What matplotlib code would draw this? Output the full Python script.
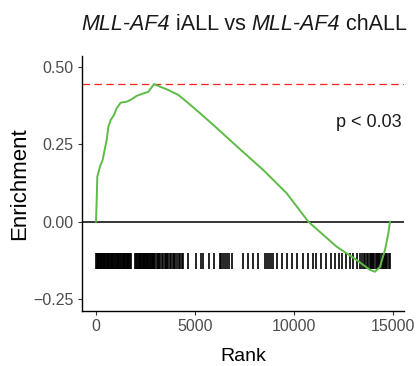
import matplotlib
matplotlib.use("Agg")
import matplotlib.pyplot as plt
from matplotlib.offsetbox import TextArea, HPacker, AnnotationBbox

plt.rcParams['font.family'] = ['Liberation Sans', 'DejaVu Sans']

# running enrichment score curve (rank, ES)
curve_rank = [0, 35, 67, 200, 337, 455, 540, 624, 741, 909, 1044, 1246, 1549, 1801, 2053,
              2390, 2643, 2929, 3232, 3653, 4158, 4579, 5252, 5926, 6936, 8450, 9630,
              10723, 12155, 13165, 13838, 14090, 14343, 14595, 14764, 14848]
curve_es = [0.0, 0.07, 0.146, 0.178, 0.2, 0.238, 0.264, 0.307, 0.329, 0.345, 0.367, 0.385,
            0.388, 0.396, 0.407, 0.415, 0.42, 0.445, 0.437, 0.426, 0.41, 0.388, 0.351, 0.313,
            0.254, 0.167, 0.092, 0.0, -0.081, -0.124, -0.156, -0.162, -0.146, -0.092, -0.038, 0.0]

# gene set hit positions (rug)
hits = [10, 45, 80, 120, 150, 195, 230, 270, 300, 345, 390, 420, 470, 510, 540, 590, 630, 660,
        710, 750, 790, 830, 880, 910, 960, 1000, 1050, 1090, 1130, 1170, 1220, 1260, 1300, 1350,
        1390, 1420, 1470, 1510, 1550, 1600, 1640, 1690, 1730, 1770,
        1995, 2040, 2080, 2120, 2160, 2200, 2240, 2280, 2320, 2360, 2400, 2440, 2480, 2520, 2560,
        2600, 2640, 2690, 2730, 2770, 2810, 2860, 2900, 2940, 3000, 3060, 3120, 3190, 3250, 3320,
        3400, 3460, 3530, 3600, 3660, 3740, 3800, 3870, 3950, 4010, 4100, 4180, 4250, 4330, 4390,
        4646, 5050, 5280, 5420, 5700, 5960, 6250, 6330, 6420, 6500, 6600, 6700, 6850,
        7420, 7693, 7913, 8198, 8535, 8640, 8740, 8850, 8939, 9125, 9378, 9630, 9883, 10135,
        10472, 10724, 10977, 11094, 11347, 11600, 11852, 12054, 12272, 12440, 12609, 12828,
        12996, 13164, 13333, 13420, 13520, 13600, 13700, 13760, 13820, 13880, 13940, 14000,
        14060, 14120, 14180, 14240, 14300, 14360, 14420, 14480, 14540, 14600, 14660, 14720,
        14780, 14840]

es_max = 0.445
p_label = "p < 0.03"
x_ticks = [0, 5000, 10000, 15000]
y_ticks = [0.50, 0.25, 0.00, -0.25]
y_ticklabels = ["0.50", "0.25", "0.00", "\u22120.25"]
title_parts = [("MLL-AF4", "italic"), (" iALL vs ", "normal"), ("MLL-AF4", "italic"), (" chALL", "normal")]

fig = plt.figure(figsize=(4.19, 3.66), dpi=100)
ax = fig.add_axes([82/419, 1-311/366, (404-82)/419, (311-56)/366])

ax.axhline(0, color='black', lw=1.1, zorder=2)
ax.axhline(es_max, color='#FF2020', lw=0.9, ls=(0, (6, 3.5)), zorder=2)
ax.vlines(hits, -0.153, -0.10, color='black', lw=1.2, zorder=3)
ax.plot(curve_rank, curve_es, color='#5DBB46', lw=1.4, zorder=4)

ax.text(15450, 0.32, p_label, ha='right', va='center', fontsize=13, color='#1a1a1a')

ax.set_xlim(-707, 15556)
ax.set_ylim(-0.289, 0.536)
ax.set_xticks(x_ticks)
ax.set_yticks(y_ticks)
ax.set_yticklabels(y_ticklabels)
for s in ['top', 'right']:
    ax.spines[s].set_visible(False)
for s in ['left', 'bottom']:
    ax.spines[s].set_linewidth(1.0)
    ax.spines[s].set_color('black')
ax.tick_params(axis='both', length=3, width=0.8, color='#333333', labelcolor='#4D4D4D',
               labelsize=11.5, pad=3)

ax.set_xlabel("Rank", fontsize=14, labelpad=10)
ax.set_ylabel("Enrichment", fontsize=16, labelpad=2)

areas = [TextArea(t, textprops=dict(fontsize=15.5, fontstyle=st, color='#1a1a1a',
                                    family='Liberation Sans')) for t, st in title_parts]
pack = HPacker(children=areas, align='baseline', pad=0, sep=0)
ab = AnnotationBbox(pack, (244/419, 1-24/366), xycoords='figure fraction',
                    box_alignment=(0.5, 0.5), frameon=False)
fig.add_artist(ab)

fig.savefig("out.png", dpi=100)
